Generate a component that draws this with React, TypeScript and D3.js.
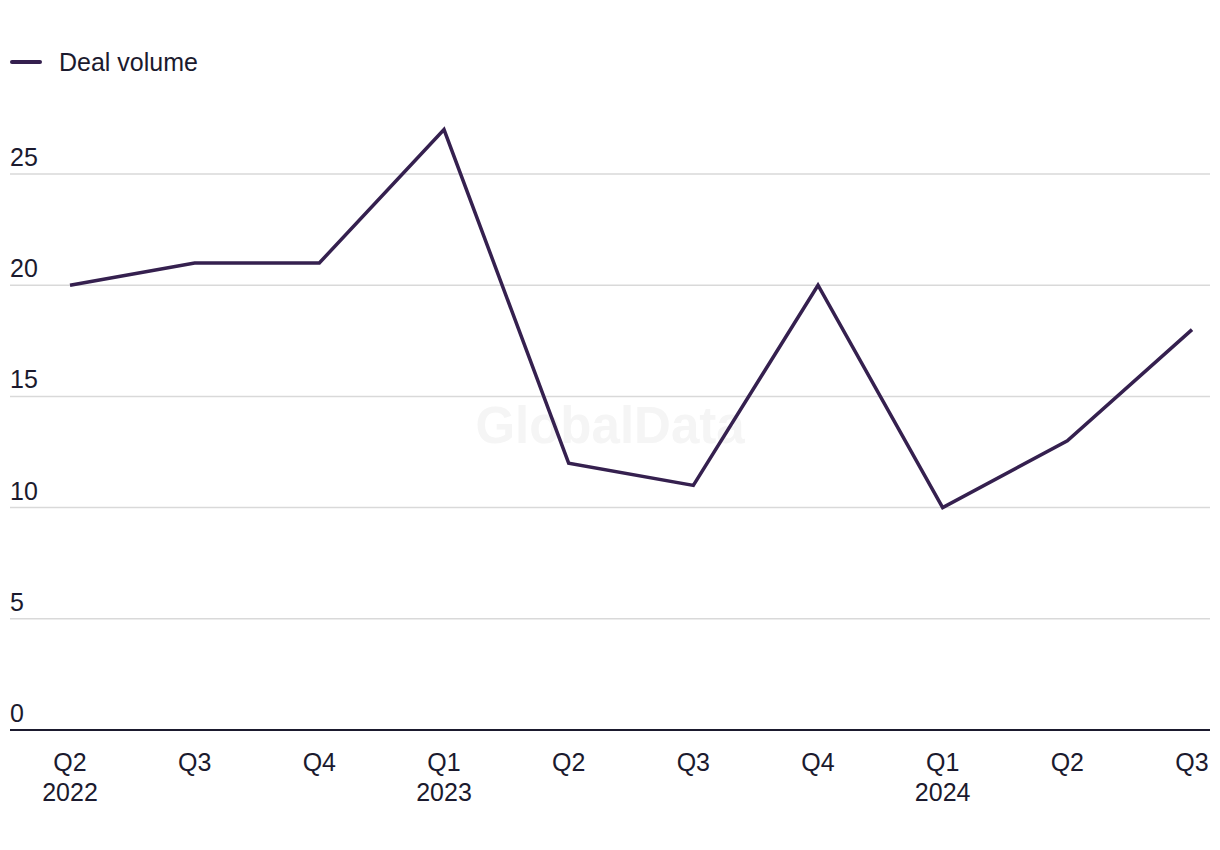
import React from "react";
import * as d3 from "d3";

const quarters = ["Q2", "Q3", "Q4", "Q1", "Q2", "Q3", "Q4", "Q1", "Q2", "Q3"];
const years = ["2022", "", "", "2023", "", "", "", "2024", "", ""];
const dealVolume = [20, 21, 21, 27, 12, 11, 20, 10, 13, 18];
const yTicks = [0, 5, 10, 15, 20, 25];
const seriesName = "Deal volume";

const W = 1220;
const H = 850;
const FONT = "'Liberation Sans', Arial, sans-serif";
const TEXT = "#1b1a2e";
const LINE = "#35204f";
const FS = 25;

export default function App() {
  const x = d3.scalePoint<number>().domain(d3.range(quarters.length)).range([70, 1192]);
  const y = d3.scaleLinear().domain([0, 25]).range([730, 174]);
  const line = d3
    .line<number>()
    .x((_, i) => x(i) as number)
    .y((d) => y(d));

  return (
    <svg width={W} height={H} style={{ position: "absolute", left: 0, top: 0, background: "#fff" }}>
      <rect width={W} height={H} fill="#fff" />
      <text x={610} y={443} textAnchor="middle" fontFamily={FONT} fontWeight="bold" fontSize={51} fill="#f5f5f5">
        GlobalData
      </text>
      {/* legend */}
      <line x1={12} x2={40} y1={62} y2={62} stroke={LINE} strokeWidth={4} strokeLinecap="round" />
      <text x={59} y={71} fontFamily={FONT} fontSize={FS} fill={TEXT}>
        {seriesName}
      </text>
      {/* grid */}
      {yTicks.map((t) => (
        <g key={t}>
          {t > 0 && <line x1={10} x2={1210} y1={y(t)} y2={y(t)} stroke="#d9d9d9" strokeWidth={1.5} />}
          <text x={10} y={y(t) - 8} fontFamily={FONT} fontSize={FS} fill={TEXT}>
            {t}
          </text>
        </g>
      ))}
      <line x1={10} x2={1210} y1={y(0)} y2={y(0)} stroke={TEXT} strokeWidth={2} />
      {/* x labels */}
      {quarters.map((q, i) => (
        <g key={i}>
          <text x={x(i)} y={771} textAnchor="middle" fontFamily={FONT} fontSize={FS} fill={TEXT}>
            {q}
          </text>
          {years[i] && (
            <text x={x(i)} y={801} textAnchor="middle" fontFamily={FONT} fontSize={FS} fill={TEXT}>
              {years[i]}
            </text>
          )}
        </g>
      ))}
      <path d={line(dealVolume) || ""} fill="none" stroke={LINE} strokeWidth={3.5} strokeLinejoin="miter" />
    </svg>
  );
}
